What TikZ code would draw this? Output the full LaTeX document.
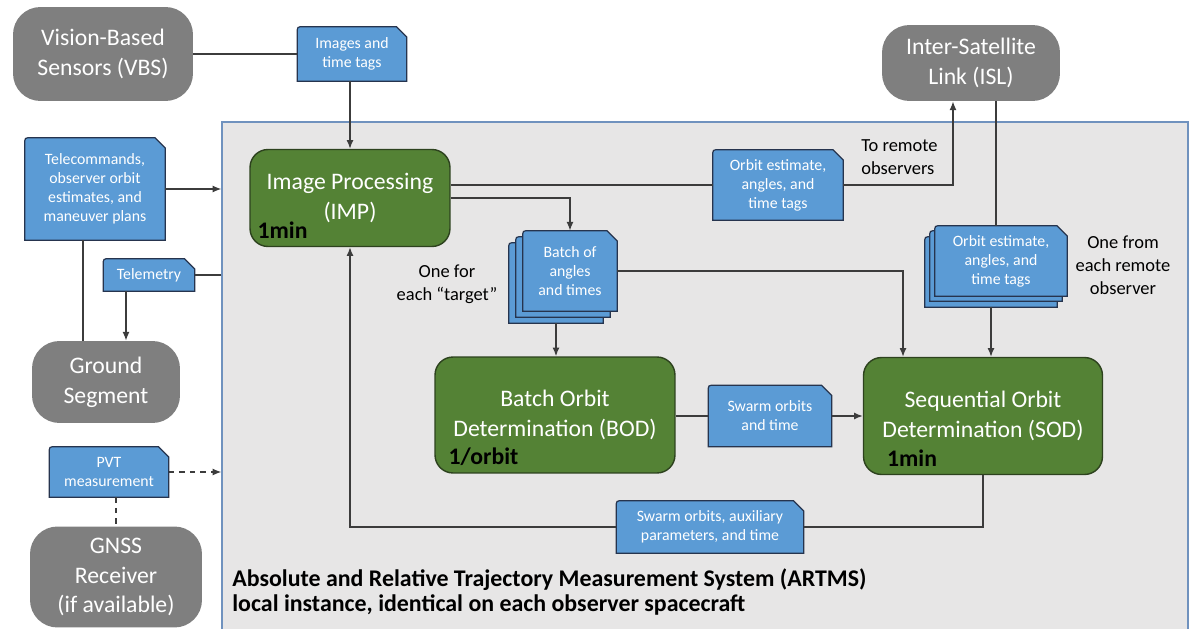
\documentclass[tikz,border=0pt]{standalone}
\usepackage{fontspec}
\setmainfont{Carlito}
\usepackage{xcolor}
\usepackage{tikz}
\usetikzlibrary{arrows.meta,positioning}
\definecolor{extgray}{RGB}{127,127,127}
\definecolor{procgreen}{RGB}{84,130,53}
\definecolor{procedge}{RGB}{45,66,30}
\definecolor{tagblue}{RGB}{91,155,213}
\definecolor{tagedge}{RGB}{38,52,78}
\definecolor{boxfill}{RGB}{231,230,230}
\definecolor{boxedge}{RGB}{112,146,190}
\definecolor{linkgray}{RGB}{60,60,60}
\newcommand{\bigfont}{\fontsize{13.5}{17}\selectfont}
\newcommand{\tagfont}{\fontsize{9}{10.8}\selectfont}
\newcommand{\notefont}{\fontsize{10.5}{13}\selectfont}
\newcommand{\ratefont}{\bfseries\fontsize{13.5}{16}\selectfont}
\newcommand{\sysfont}{\bfseries\fontsize{13.6}{14.5}\selectfont}
% data tag: rounded top-left, clipped top-right
\newcommand{\tagshape}[1]{%
  \draw[tagline] (#1.south west) -- ([yshift=-4pt]#1.north west)
    .. controls (#1.north west) .. ([xshift=4pt]#1.north west)
    -- ([xshift=-6pt]#1.north east) -- ([yshift=-6pt]#1.north east)
    -- (#1.south east) -- cycle;}
\pgfdeclarelayer{background}
\pgfdeclarelayer{tagbg}
\pgfsetlayers{background,tagbg,main}

\begin{document}
\begin{tikzpicture}[x=0.02cm,y=-0.02cm,
  outsidebox/.style={fill=extgray,text=white,rounded corners=0.55cm,font=\bigfont,align=center,inner sep=0pt},
  procbox/.style={fill=procgreen,draw=procedge,line width=0.8pt,rounded corners=0.36cm,text=white,font=\bigfont,align=center,inner sep=0pt},
  tagbox/.style={text=white,font=\tagfont,align=center,inner sep=0pt},
  tagline/.style={fill=tagblue,draw=tagedge,line width=0.7pt},
  flowline/.style={draw=linkgray,line width=0.8pt},
  flowarrow/.style={flowline,-{Latex[length=5pt,width=4pt]}},
  sidenote/.style={font=\notefont,align=center,inner sep=0pt},
  ratelabel/.style={font=\ratefont,text=black,inner sep=0pt}]

\useasboundingbox (0,0) rectangle (1201,629);

% === ARTMS local instance (background) ===
\begin{pgfonlayer}{background}
\clip (0,0) rectangle (1201,629);
\node[fill=boxfill,draw=boxedge,line width=0.8pt,minimum width=19.32cm,minimum height=10.76cm] (artms) at (705,391) {};
\end{pgfonlayer}

% === External systems ===
\node[outsidebox,minimum width=3.6cm,minimum height=1.88cm] (vbs) at (103,54) {Vision-Based\\Sensors (VBS)};
\node[outsidebox,minimum width=3.56cm,minimum height=1.52cm] (isl) at (971,63) {Inter-Satellite\\Link (ISL)};
\node[outsidebox,minimum width=2.96cm,minimum height=1.64cm] (ground) at (106,382) {Ground\\Segment};
\node[outsidebox,minimum width=3.44cm,minimum height=2.02cm] (gnss) at (116,577) {GNSS\\Receiver\\(if available)};

% === Processing blocks ===
\node[procbox,minimum width=4.0cm,minimum height=1.94cm] (imp) at (350,198) {Image Processing\\(IMP)};
\node[procbox,minimum width=4.8cm,minimum height=2.32cm] (bod) at (555,415) {Batch Orbit\\Determination (BOD)};
\node[procbox,minimum width=4.78cm,minimum height=2.34cm] (sod) at (983,416) {Sequential Orbit\\Determination (SOD)};
\node[ratelabel,anchor=base west] (imprate) at ([xshift=0.16cm,yshift=0.18cm]imp.south west) {1min};
\node[ratelabel,anchor=base west] (bodrate) at ([xshift=0.28cm,yshift=0.18cm]bod.south west) {1/orbit};
\node[ratelabel,anchor=base west] (sodrate) at ([xshift=0.48cm,yshift=0.18cm]sod.south west) {1min};

% === Data tags ===
\node[tagbox,minimum width=2.18cm,minimum height=1.08cm] (imgtag) at (352,54) {Images and\\time tags};
\node[tagbox,minimum width=2.8cm,minimum height=2.04cm] (tctag) at (95,189) {Telecommands,\\observer orbit\\estimates, and\\maneuver plans};
\node[tagbox,minimum width=1.82cm,minimum height=0.64cm] (tmtag) at (149,275) {Telemetry};
\node[tagbox,minimum width=2.38cm,minimum height=1.0cm] (pvttag) at (109,472) {PVT\\measurement};
\node[tagbox,minimum width=2.6cm,minimum height=1.4cm] (orbtag) at (778,185) {Orbit estimate,\\angles, and\\time tags};
\node[tagbox,minimum width=2.46cm,minimum height=1.22cm] (swtag) at (770,416) {Swarm orbits\\and time};
\node[tagbox,minimum width=3.74cm,minimum height=1.04cm] (auxtag) at (710,527) {Swarm orbits, auxiliary\\parameters, and time};
% stacked tags
\node[tagbox,minimum width=1.88cm,minimum height=1.6cm] (batchc) at (556,283) {};
\node[tagbox,minimum width=1.88cm,minimum height=1.6cm] (batchb) at (563,277) {};
\node[tagbox,minimum width=1.88cm,minimum height=1.6cm] (batch) at (570,271) {Batch of\\angles\\and times};
\node[tagbox,minimum width=2.64cm,minimum height=1.4cm] (rtagc) at (991,272) {};
\node[tagbox,minimum width=2.64cm,minimum height=1.4cm] (rtagb) at (996,266) {};
\node[tagbox,minimum width=2.64cm,minimum height=1.4cm] (rtag) at (1001,261) {Orbit estimate,\\angles, and\\time tags};

\begin{pgfonlayer}{tagbg}
\foreach \t in {imgtag,tctag,tmtag,pvttag,orbtag,swtag,auxtag,batchc,batchb,batch,rtagc,rtagb,rtag}
  \tagshape{\t};
\end{pgfonlayer}

% === Side notes ===
\node[sidenote,anchor=west,align=left] (toremote) at (861,157) {To remote\\observers};
\node[sidenote] (onefrom) at (1123,265) {One from\\each remote\\observer};
\node[sidenote] (onefor) at (447,284) {One for\\each “target”};

% === Connectors ===
\draw[flowline] (vbs.east |- imgtag.west) -- (imgtag.west);
\draw[flowarrow] (imgtag.south -| imp.north) -- (imp.north);
\draw[flowarrow] (tctag.east) -- (tctag.east -| artms.west);
\draw[flowline] ([xshift=-0.24cm]tctag.south) -- ([xshift=-0.24cm]tctag.south |- ground.north);
\draw[flowline] (artms.west |- tmtag.east) -- (tmtag.east);
\draw[flowarrow] ([xshift=-0.46cm]tmtag.south) -- ([xshift=-0.46cm]tmtag.south |- ground.north);
\draw[flowarrow,dashed] (pvttag.east) -- (pvttag.east -| artms.west);
\draw[flowline,dashed] (gnss.north |- pvttag.south) -- (gnss.north);

\draw[flowline] (imp.east |- orbtag.west) -- (orbtag.west);
\draw[flowarrow] (orbtag.east) -| ([xshift=-0.36cm]isl.south);
\draw[flowarrow] (imp.east) -| (batch.north);
\draw[flowline] (isl.south -| rtagb.north) -- (rtagb.north |- rtag.north);
\draw[flowarrow] (batchc.south) -- (batchc.south |- bod.north);
\draw[flowarrow] (batch.east) -| ([xshift=-1.6cm]sod.north);
\draw[flowarrow] (rtagc.south) -- (rtagc.south |- sod.north);
\draw[flowline] (bod.east |- swtag.west) -- (swtag.west);
\draw[flowarrow] (swtag.east) -- (swtag.east -| sod.west);
\draw[flowline] (sod.south) |- (auxtag.east);
\draw[flowarrow] (auxtag.west) -| (imp.south);

% === System caption ===
\node[font=\sysfont,text=black,align=left,anchor=north west,inner sep=0pt] (caption) at (232,568) {Absolute and Relative Trajectory Measurement System (ARTMS)\\local instance, identical on each observer spacecraft};

\end{tikzpicture}
\end{document}
